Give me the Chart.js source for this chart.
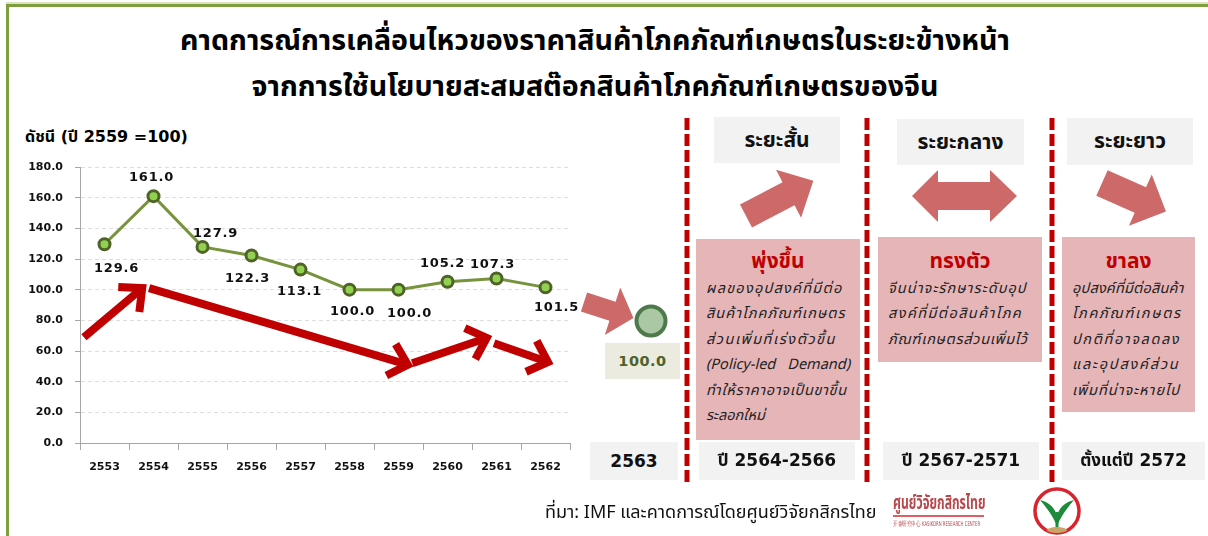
<!DOCTYPE html>
<html>
<head>
<meta charset="utf-8">
<script src="https://cdn.jsdelivr.net/npm/chart.js@4/dist/chart.umd.min.js"></script>
<style>
  html, body { margin: 0; padding: 0; background: #fff; }
  body { width: 1208px; height: 536px; position: relative; overflow: hidden; font-family: "Noto Sans Thai", "Noto Sans", "DejaVu Sans", sans-serif; }
  .abs { position: absolute; }
  .title { left: 0; width: 1190px; text-align: center; font-weight: bold; font-size: 28.6px; color: #000; white-space: nowrap; }
  .gray { background: #f2f2f2; text-align: center; font-weight: bold; color: #111; font-size: 21px; display: flex; align-items: center; justify-content: center; }
  .period { font-family: "DejaVu Sans", "Noto Sans Thai", sans-serif; font-size: 17px; }
  .pink { background: #e6b5b8; }
  .pink .head { text-align: center; color: #c00000; font-weight: bold; font-size: 21px; line-height: 30px; }
  .pink .line { font-style: italic; font-size: 14.5px; line-height: 25.4px; white-space: nowrap; color: #222; }
</style>
</head>
<body>
<!-- frame -->
<div class="abs" style="left:6px;top:2px;width:1202px;height:2px;background:#d7e4bd"></div>
<div class="abs" style="left:6px;top:4px;width:1202px;height:3px;background:#7f9f3f"></div>
<div class="abs" style="left:6px;top:4px;width:3px;height:532px;background:#7f9f3f"></div>

<div class="abs title" style="top:20px">คาดการณ์การเคลื่อนไหวของราคาสินค้าโภคภัณฑ์เกษตรในระยะข้างหน้า</div>
<div class="abs title" style="top:66px">จากการใช้นโยบายสะสมสต๊อกสินค้าโภคภัณฑ์เกษตรของจีน</div>

<div class="abs" style="left:25px;top:125px;font-weight:bold;font-size:16px;white-space:nowrap;font-family:'DejaVu Sans','Noto Sans Thai',sans-serif">ดัชนี (ปี 2559 =100)</div>

<canvas id="c" class="abs" width="600" height="380" style="left:0;top:120px"></canvas>

<svg class="abs" width="1208" height="536" style="left:0;top:0" xmlns="http://www.w3.org/2000/svg">
  <g stroke="#c00000" stroke-width="5" stroke-dasharray="12 4">
    <line x1="687" y1="118" x2="687" y2="482"/>
    <line x1="867" y1="118" x2="867" y2="482"/>
    <line x1="1052" y1="118" x2="1052" y2="482"/>
  </g>
  <g fill="#cd6969">
    <polygon transform="translate(746,216) rotate(-27.6)" points="0,-13 48,-13 48,-27 76,0 48,27 48,13 0,13"/>
    <polygon points="912,196 938,170 938,182 990,182 990,170 1017,196 990,222 990,210 938,210 938,222"/>
    <polygon transform="translate(1102,183) rotate(24)" points="0,-14 42,-14 42,-28 70,0 42,28 42,14 0,14"/>
    <polygon transform="translate(584,302) rotate(18)" points="0,-10 30,-10 30,-25 52,0 30,25 30,10 0,10"/>
  </g>
  <circle cx="651" cy="321" r="14.5" fill="#a9c8a3" stroke="#4e7a4b" stroke-width="4"/>
  <!-- logo -->
  <line x1="893" y1="516" x2="984" y2="516" stroke="#d12b33" stroke-width="1.5"/>
  <circle cx="1057" cy="511" r="22" fill="#fff" stroke="#d9232e" stroke-width="3.5"/>
  <path d="M1057 526 C1052 514 1045 506 1040 500 C1049 502 1055 508 1057 516 C1059 508 1065 502 1074 500 C1069 506 1062 514 1057 526 Z" fill="#1e8a3c"/>
  <rect x="1055.5" y="512" width="3" height="18" fill="#1e8a3c"/>
  <ellipse cx="1057" cy="530" rx="10" ry="3" fill="#c9a56a"/>
</svg>

<!-- column headers -->
<div class="abs gray" style="left:714px;top:117px;width:126px;height:46px">ระยะสั้น</div>
<div class="abs gray" style="left:897px;top:119px;width:127px;height:46px">ระยะกลาง</div>
<div class="abs gray" style="left:1067px;top:118px;width:126px;height:47px">ระยะยาว</div>

<!-- 2563 -->
<div class="abs" style="left:605px;top:343px;width:75px;height:36px;background:#ebebdf;color:#4f6228;font-weight:bold;font-size:14.5px;display:flex;align-items:center;justify-content:center;font-family:'DejaVu Sans',sans-serif;letter-spacing:0.5px">100.0</div>

<!-- pink boxes -->
<div class="abs pink" style="left:696px;top:239px;width:164px;height:201px">
  <div class="head" style="margin-top:8px">พุ่งขึ้น</div>
  <div style="padding:0 10px">
    <div class="line fit">ผลของอุปสงค์ที่มีต่อ</div>
    <div class="line fit">สินค้าโภคภัณฑ์เกษตร</div>
    <div class="line fit">ส่วนเพิ่มที่เร่งตัวขึ้น</div>
    <div class="line" style="display:flex;justify-content:space-between"><span>(Policy-led</span><span>Demand)</span></div>
    <div class="line fit">ทำให้ราคาอาจเป็นขาขึ้น</div>
    <div class="line">ระลอกใหม่</div>
  </div>
</div>
<div class="abs pink" style="left:878px;top:237px;width:164px;height:125px">
  <div class="head" style="margin-top:10px">ทรงตัว</div>
  <div style="padding:0 10px">
    <div class="line fit">จีนน่าจะรักษาระดับอุป</div>
    <div class="line fit">สงค์ที่มีต่อสินค้าโภค</div>
    <div class="line fit">ภัณฑ์เกษตรส่วนเพิ่มไว้</div>
  </div>
</div>
<div class="abs pink" style="left:1062px;top:237px;width:133px;height:175px">
  <div class="head" style="margin-top:10px">ขาลง</div>
  <div style="padding:0 10px">
    <div class="line fit">อุปสงค์ที่มีต่อสินค้า</div>
    <div class="line fit">โภคภัณฑ์เกษตร</div>
    <div class="line fit">ปกติที่อาจลดลง</div>
    <div class="line fit">และอุปสงค์ส่วน</div>
    <div class="line fit">เพิ่มที่น่าจะหายไป</div>
  </div>
</div>

<!-- period boxes -->
<div class="abs gray period" style="left:590px;top:442px;width:88px;height:38px">2563</div>
<div class="abs gray period" style="left:699px;top:442px;width:156px;height:38px">ปี 2564-2566</div>
<div class="abs gray period" style="left:883px;top:442px;width:156px;height:38px">ปี 2567-2571</div>
<div class="abs gray period" style="left:1062px;top:442px;width:143px;height:38px">ตั้งแต่ปี 2572</div>

<!-- source -->
<div class="abs" style="left:545px;top:499px;font-size:18px;white-space:nowrap;color:#111">ที่มา: IMF และคาดการณ์โดยศูนย์วิจัยกสิกรไทย</div>
<div class="abs" style="left:893px;top:489px;font-size:19px;font-weight:bold;color:#b8474c;white-space:nowrap;transform-origin:0 0;transform:scaleX(0.64)">ศูนย์วิจัยกสิกรไทย</div>
<div class="abs" style="left:893px;top:520px;font-size:6.5px;color:#b8474c;white-space:nowrap;font-family:'DejaVu Sans Condensed',sans-serif;transform-origin:0 0;transform:scaleX(0.66)">开泰研究中心 KASIKORN RESEARCH CENTER</div>

<script>
// index (ปี 2559 = 100)
const years = ['2553', '2554', '2555', '2556', '2557', '2558', '2559', '2560', '2561', '2562'];
const priceIndex = [129.6, 161.0, 127.9, 122.3, 113.1, 100.0, 100.0, 105.2, 107.3, 101.5];
const yTicks = [0, 20, 40, 60, 80, 100, 120, 140, 160, 180];

// where each value label sits relative to its point (px)
const labelOffset = [[12, 24], [-2, -19], [13, -13], [-4, 23], [-1, 22], [3, 22], [11, 24], [-5, -18], [-4, -14], [11, 20]];

// trend arrows drawn on the chart: [fromIndex, fromValue, toIndex, toValue]
const trendArrows = [
  [-0.42, 69, 0.77, 101],
  [0.91, 101, 6.19, 51],
  [6.28, 52, 7.8, 68.5],
  [7.95, 65, 9.05, 52.8]
];

const labelPlugin = {
  id: 'valueLabels',
  afterDatasetsDraw(chart) {
    const ctx = chart.ctx;
    const meta = chart.getDatasetMeta(0);
    ctx.save();
    ctx.font = 'bold 13px "DejaVu Sans"';
    ctx.letterSpacing = '0.8px';
    ctx.fillStyle = '#111';
    ctx.textAlign = 'center';
    ctx.textBaseline = 'middle';
    meta.data.forEach((pt, i) => {
      const o = labelOffset[i];
      ctx.fillText(priceIndex[i].toFixed(1), pt.x + o[0], pt.y + o[1]);
    });
    ctx.restore();
  }
};

const arrowPlugin = {
  id: 'trendArrows',
  afterDatasetsDraw(chart) {
    const ctx = chart.ctx;
    const x = chart.scales.x, y = chart.scales.y;
    const step = (x.right - x.left) / years.length;
    const px = i => x.left + (i + 0.5) * step;
    ctx.save();
    ctx.strokeStyle = '#c00000';
    ctx.lineWidth = 8;
    ctx.lineCap = 'butt';
    ctx.lineJoin = 'miter';
    trendArrows.forEach(a => {
      const x0 = px(a[0]), y0 = y.getPixelForValue(a[1]);
      const x1 = px(a[2]), y1 = y.getPixelForValue(a[3]);
      const ang = Math.atan2(y1 - y0, x1 - x0);
      ctx.beginPath();
      ctx.moveTo(x0, y0);
      ctx.lineTo(x1 - 4 * Math.cos(ang), y1 - 4 * Math.sin(ang));
      ctx.stroke();
      const h = 24, spread = 0.75;
      ctx.beginPath();
      ctx.moveTo(x1 - h * Math.cos(ang - spread), y1 - h * Math.sin(ang - spread));
      ctx.lineTo(x1, y1);
      ctx.lineTo(x1 - h * Math.cos(ang + spread), y1 - h * Math.sin(ang + spread));
      ctx.stroke();
    });
    ctx.restore();
  }
};

new Chart(document.getElementById('c'), {
  type: 'line',
  data: {
    labels: years,
    datasets: [{
      data: priceIndex,
      borderColor: '#77933c',
      borderWidth: 3,
      pointRadius: 5.5,
      pointBackgroundColor: '#92d050',
      pointBorderColor: '#4f6228',
      pointBorderWidth: 3,
      tension: 0
    }]
  },
  options: {
    responsive: false,
    devicePixelRatio: 1,
    animation: false,
    layout: { padding: { left: 0, right: 30, top: 47, bottom: 0 } },
    plugins: { legend: { display: false }, tooltip: { enabled: false } },
    scales: {
      x: {
        offset: true,
        afterFit: s => { s.height = 57; },
        grid: { offset: true, drawOnChartArea: false, tickLength: 7, color: '#a6a6a6' },
        border: { color: '#a6a6a6' },
        ticks: { color: '#111', padding: 11, font: { family: 'DejaVu Sans', size: 11, weight: 'bold' } }
      },
      y: {
        min: 0,
        max: 180,
        afterFit: s => { s.width = 80; },
        afterBuildTicks: s => { s.ticks = yTicks.map(v => ({ value: v })); },
        grid: { color: '#dedede', tickLength: 5, tickColor: '#a6a6a6' },
        border: { color: '#a6a6a6', dash: [4, 3] },
        ticks: {
          color: '#111', padding: 12,
          font: { family: 'DejaVu Sans', size: 11, weight: 'bold' },
          callback: v => v.toFixed(1)
        }
      }
    }
  },
  plugins: [labelPlugin, arrowPlugin]
});

// spread justified Thai lines across the box width
document.fonts.ready.then(() => {
  document.querySelectorAll('.fit').forEach(el => {
    const box = el.parentElement.clientWidth - 20;
    const s = document.createElement('span');
    s.textContent = el.textContent;
    el.textContent = '';
    el.appendChild(s);
    const n = [...s.textContent].length;
    const extra = box - s.getBoundingClientRect().width;
    if (n > 1) el.style.letterSpacing = (extra / n) + 'px';
  });
});
</script>
</body>
</html>
